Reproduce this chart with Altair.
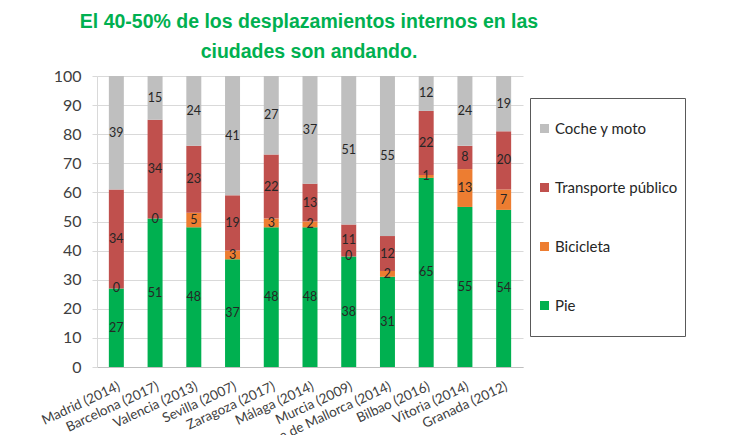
import altair as alt
import pandas as pd

cities = ["Madrid (2014)", "Barcelona (2017)", "Valencia (2013)", "Sevilla (2007)",
          "Zaragoza (2017)", "Málaga (2014)", "Murcia (2009)", "Palma de Mallorca (2014)",
          "Bilbao (2016)", "Vitoria (2014)", "Granada (2012)"]
pie = [27, 51, 48, 37, 48, 48, 38, 31, 65, 55, 54]
bicicleta = [0, 0, 5, 3, 3, 2, 0, 2, 1, 13, 7]
transporte = [34, 34, 23, 19, 22, 13, 11, 12, 22, 8, 20]
coche = [39, 15, 24, 41, 27, 37, 51, 55, 12, 24, 19]

modes = ["Pie", "Bicicleta", "Transporte público", "Coche y moto"]
legend_order = ["Coche y moto", "Transporte público", "Bicicleta", "Pie"]
colors = ["#BFBFBF", "#C0504D", "#ED7D31", "#00B050"]
y_ticks = [0, 10, 20, 30, 40, 50, 60, 70, 80, 90, 100]

rows = []
for i, c in enumerate(cities):
    for k, (m, vals) in enumerate(zip(modes, [pie, bicicleta, transporte, coche])):
        rows.append({"city": c, "mode": m, "value": vals[i], "ord": k})
df = pd.DataFrame(rows)

FONT = "Lato"

xscale = alt.Scale(paddingInner=0.613, paddingOuter=0.306)
xaxis = alt.Axis(labelAngle=-25, labelFontSize=13.5, labelFont=FONT, labelColor="#404040",
                 ticks=False, domainColor="#BFBFBF", labelPadding=12,
                 labelAlign="right", labelBaseline="top", labelLimit=300)
yscale = alt.Scale(domain=[0, 100], nice=False)
yaxis = alt.Axis(values=y_ticks, labelFontSize=16, labelFont=FONT,
                 labelColor="#404040", gridColor="#D9D9D9", domainColor="#D9D9D9",
                 tickColor="#D9D9D9", tickSize=5, labelPadding=11, labelOverlap=False)

bars = alt.Chart(df).mark_bar().encode(
    x=alt.X("city:N", sort=cities, title=None, scale=xscale, axis=xaxis),
    y=alt.Y("value:Q", stack="zero", title=None, scale=yscale, axis=yaxis),
    color=alt.Color("mode:N", scale=alt.Scale(domain=legend_order, range=colors),
                    legend=alt.Legend(title=None, orient="none", legendX=433, legendY=22,
                                      symbolType="square", symbolSize=81, symbolStrokeWidth=0,
                                      labelFont=FONT, labelFontSize=15, labelColor="#262626",
                                      labelOffset=3, padding=7, clipHeight=47, rowPadding=12,
                                      strokeColor="#595959", labelLimit=300)),
    order=alt.Order("ord:Q", sort="ascending"),
)

labels = alt.Chart(df).transform_stack(
    stack="value", groupby=["city"], as_=["v0", "v1"], sort=[alt.SortField("ord")]
).transform_calculate(
    mid="(datum.v0 + datum.v1) / 2"
).mark_text(font=FONT, fontSize=12.5, color="#262626", baseline="middle").encode(
    x=alt.X("city:N", sort=cities, title=None, scale=xscale, axis=xaxis),
    y=alt.Y("mid:Q", title=None, scale=yscale, axis=yaxis),
    text="value:Q",
)

chart = alt.layer(bars, labels).properties(
    width=426, height=291,
    autosize=alt.AutoSizeParams(type="none"),
    padding={"left": 89, "top": 68, "right": 200, "bottom": 68},
    title=alt.Title(
        text=["El 40-50% de los desplazamientos internos en las", "ciudades son andando."],
        font="Liberation Sans", fontSize=19.5, fontWeight="bold", color="#00B050",
        lineHeight=30, anchor="middle", offset=6, dx=-1),
).configure_view(stroke=None)

chart.save("out.html", embed_options={"renderer": "svg", "actions": False})
